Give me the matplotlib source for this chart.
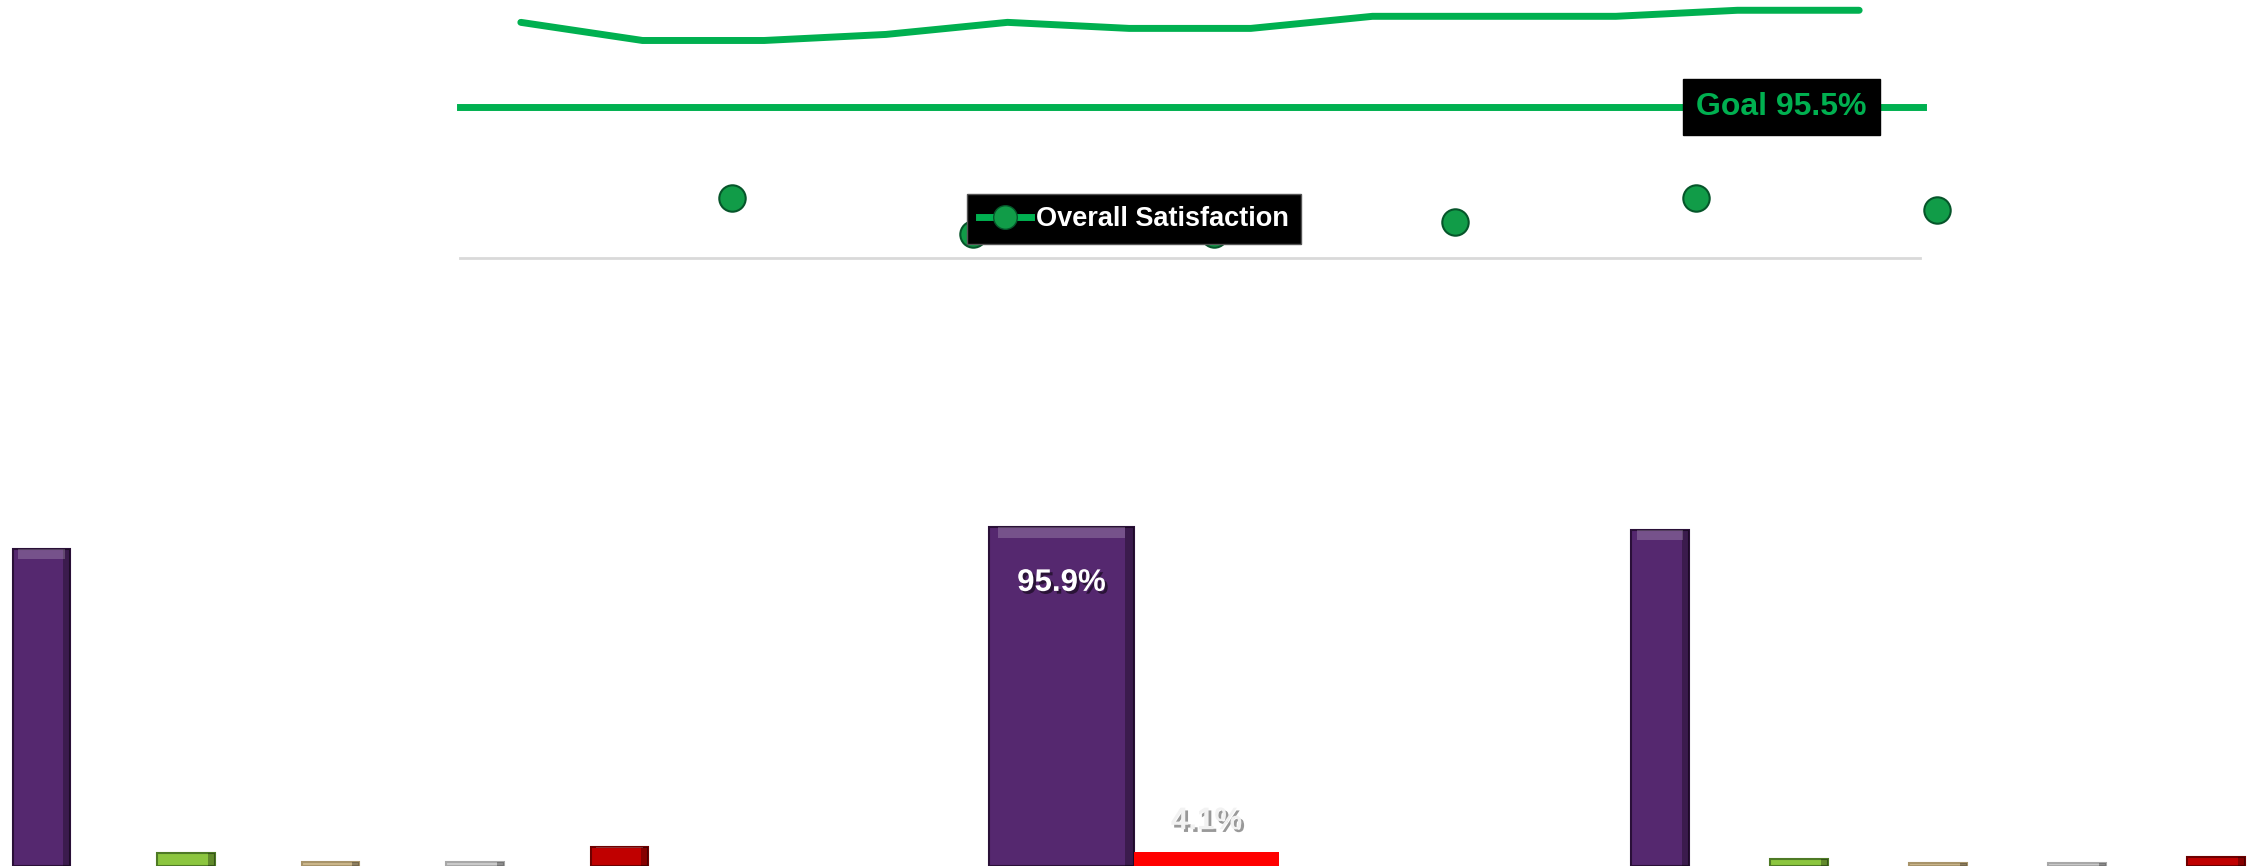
import numpy as np
import matplotlib
matplotlib.use('Agg')
import matplotlib.pyplot as plt
import matplotlib.patheffects as pe
from matplotlib.lines import Line2D

plt.rcParams['font.family'] = ['Liberation Sans', 'DejaVu Sans']
plt.rcParams['font.weight'] = 'bold'

# ---- data ----
# monthly trend (top line)
trend_vals = [96.9, 96.6, 96.6, 96.7, 96.9, 96.8, 96.8, 97.0, 97.0, 97.0, 97.1, 97.1]
goal = 95.5
# overall satisfaction points
sat_vals = [94.0, 93.4, 93.4, 93.6, 94.0, 93.8]

# bar groups (percent)
left_vals = [89.8, 3.7, 1.1, 1.1, 5.4]
mid_vals = [95.9, 4.1]
right_vals = [95.2, 2.0, 0.8, 0.8, 2.5]
five_colors = ['#55286f', '#8cc63f', '#cdb88c', '#cccccc', '#c00000']
five_edges = ['#2a1038', '#4e7a25', '#a8946a', '#a8a8a8', '#6e0000']
mid_colors = ['#55286f', '#ff0000']
mid_labels = ['95.9%', '4.1%']

W, H = 2259, 866
fig = plt.figure(figsize=(W / 100, H / 100), dpi=100)
fig.patch.set_facecolor('white')


def px_axes(x0, y0, x1, y1):
    # y measured from top of image, in pixels
    return fig.add_axes([x0 / W, 1 - y1 / H, (x1 - x0) / W, (y1 - y0) / H])


# ---- top: trend line + goal ----
ax = px_axes(460, 0, 1920, 258)
ax.set_facecolor('none')
x = np.arange(len(trend_vals))
ax.plot(x, trend_vals, color='#00b050', lw=5, solid_capstyle='round', zorder=3)
ax.set_xlim(-0.5, len(trend_vals) - 0.5)
ax.set_ylim(93.0, 97.27)
ax.axhline(goal, xmin=0.0, xmax=1.002, color='#00b050', lw=5, clip_on=False, zorder=2)
for s in ['top', 'left', 'right']:
    ax.spines[s].set_visible(False)
ax.spines['bottom'].set_color('#d9d9d9')
ax.spines['bottom'].set_linewidth(2)
ax.set_xticks([])
ax.set_yticks([])

ax.text(0.905, (goal - 93.0) / (97.27 - 93.0), 'Goal 95.5%', transform=ax.transAxes,
        ha='center', va='center', fontsize=23, color='#00b050', fontweight='bold',
        bbox=dict(boxstyle='square,pad=0.42', facecolor='black', edgecolor='black'),
        zorder=5)

# ---- satisfaction points ----
ax2 = px_axes(611, 0, 2057, 258)
ax2.set_facecolor('none')
ax2.axis('off')
ax2.set_xlim(-0.5, len(sat_vals) - 0.5)
ax2.set_ylim(93.0, 97.27)
ax2.plot(np.arange(len(sat_vals)), sat_vals, ls='none', marker='o', ms=19,
         markerfacecolor='#119c48', markeredgecolor='#06552a', markeredgewidth=1.5,
         clip_on=False)

handle = Line2D([0], [0], color='#00b050', lw=5, marker='o', ms=17,
                markerfacecolor='#119c48', markeredgecolor='#06552a')
leg = fig.legend([handle], ['Overall Satisfaction'], loc='center',
                 bbox_to_anchor=(1134 / W, 1 - 219 / H), fontsize=19.5,
                 frameon=True, fancybox=False, facecolor='black', edgecolor='#555555',
                 framealpha=1, handlelength=1.9, handletextpad=0.2, borderpad=0.45)
for t in leg.get_texts():
    t.set_color('white')
    t.set_fontweight('bold')


# ---- bottom bars ----
def bar_group(ax, vals, colors, edges, width):
    xs = np.arange(len(vals))
    ax.bar(xs, vals, width=width, color=colors, edgecolor=edges, linewidth=1.5, zorder=2)
    # darker right side and lighter top bevel
    ax.bar(xs + width * 0.44, vals, width=width * 0.12, color='black', alpha=0.3,
           linewidth=0, zorder=3)
    tops = [v * 0.97 for v in vals]
    ax.bar(xs, [v - t for v, t in zip(vals, tops)], bottom=tops, width=width * 0.8,
           color='white', alpha=0.2, linewidth=0, zorder=3)
    ax.set_ylim(0, 100)
    ax.axis('off')
    ax.set_facecolor('none')
    return xs


bar_top = 866 - 353
axl = px_axes(0, bar_top, 700, 866)
axl.set_xlim(-0.287, 4.557)
bar_group(axl, left_vals, five_colors, five_edges, 0.4)

axr = px_axes(1560, bar_top, 2259, 866)
axr.set_xlim(-0.719, 4.31)
bar_group(axr, right_vals, five_colors, five_edges, 0.417)

axm = px_axes(900, bar_top, 1450, 866)
axm.set_xlim(-1.114, 2.679)
xs = np.arange(len(mid_vals))
axm.bar(xs[:1], mid_vals[:1], width=1.0, color=mid_colors[0], edgecolor='#2a1038',
        linewidth=1.5, zorder=2)
axm.bar(xs[:1] + 0.47, mid_vals[:1], width=0.06, color='black', alpha=0.3, linewidth=0, zorder=3)
axm.bar(xs[:1], [mid_vals[0] * 0.03], bottom=[mid_vals[0] * 0.97], width=0.88,
        color='white', alpha=0.2, linewidth=0, zorder=3)
axm.bar(xs[1:], mid_vals[1:], width=1.0, color=mid_colors[1], linewidth=0, zorder=2)
axm.set_ylim(0, 100)
axm.axis('off')
axm.set_facecolor('none')

axm.text(xs[0], mid_vals[0] - 15.7, mid_labels[0], ha='center', va='center',
         fontsize=22.5, color='white', fontweight='bold', zorder=5,
         path_effects=[pe.withSimplePatchShadow(offset=(2, -2), shadow_rgbFace='black', alpha=0.5)])
axm.text(xs[1], mid_vals[1] + 8.6, mid_labels[1], ha='center', va='center',
         fontsize=22.5, color='#f2f2f2', fontweight='bold', zorder=5,
         path_effects=[pe.withSimplePatchShadow(offset=(2, -2), shadow_rgbFace='#555555', alpha=0.6)])

fig.savefig('out.png', dpi=100)
